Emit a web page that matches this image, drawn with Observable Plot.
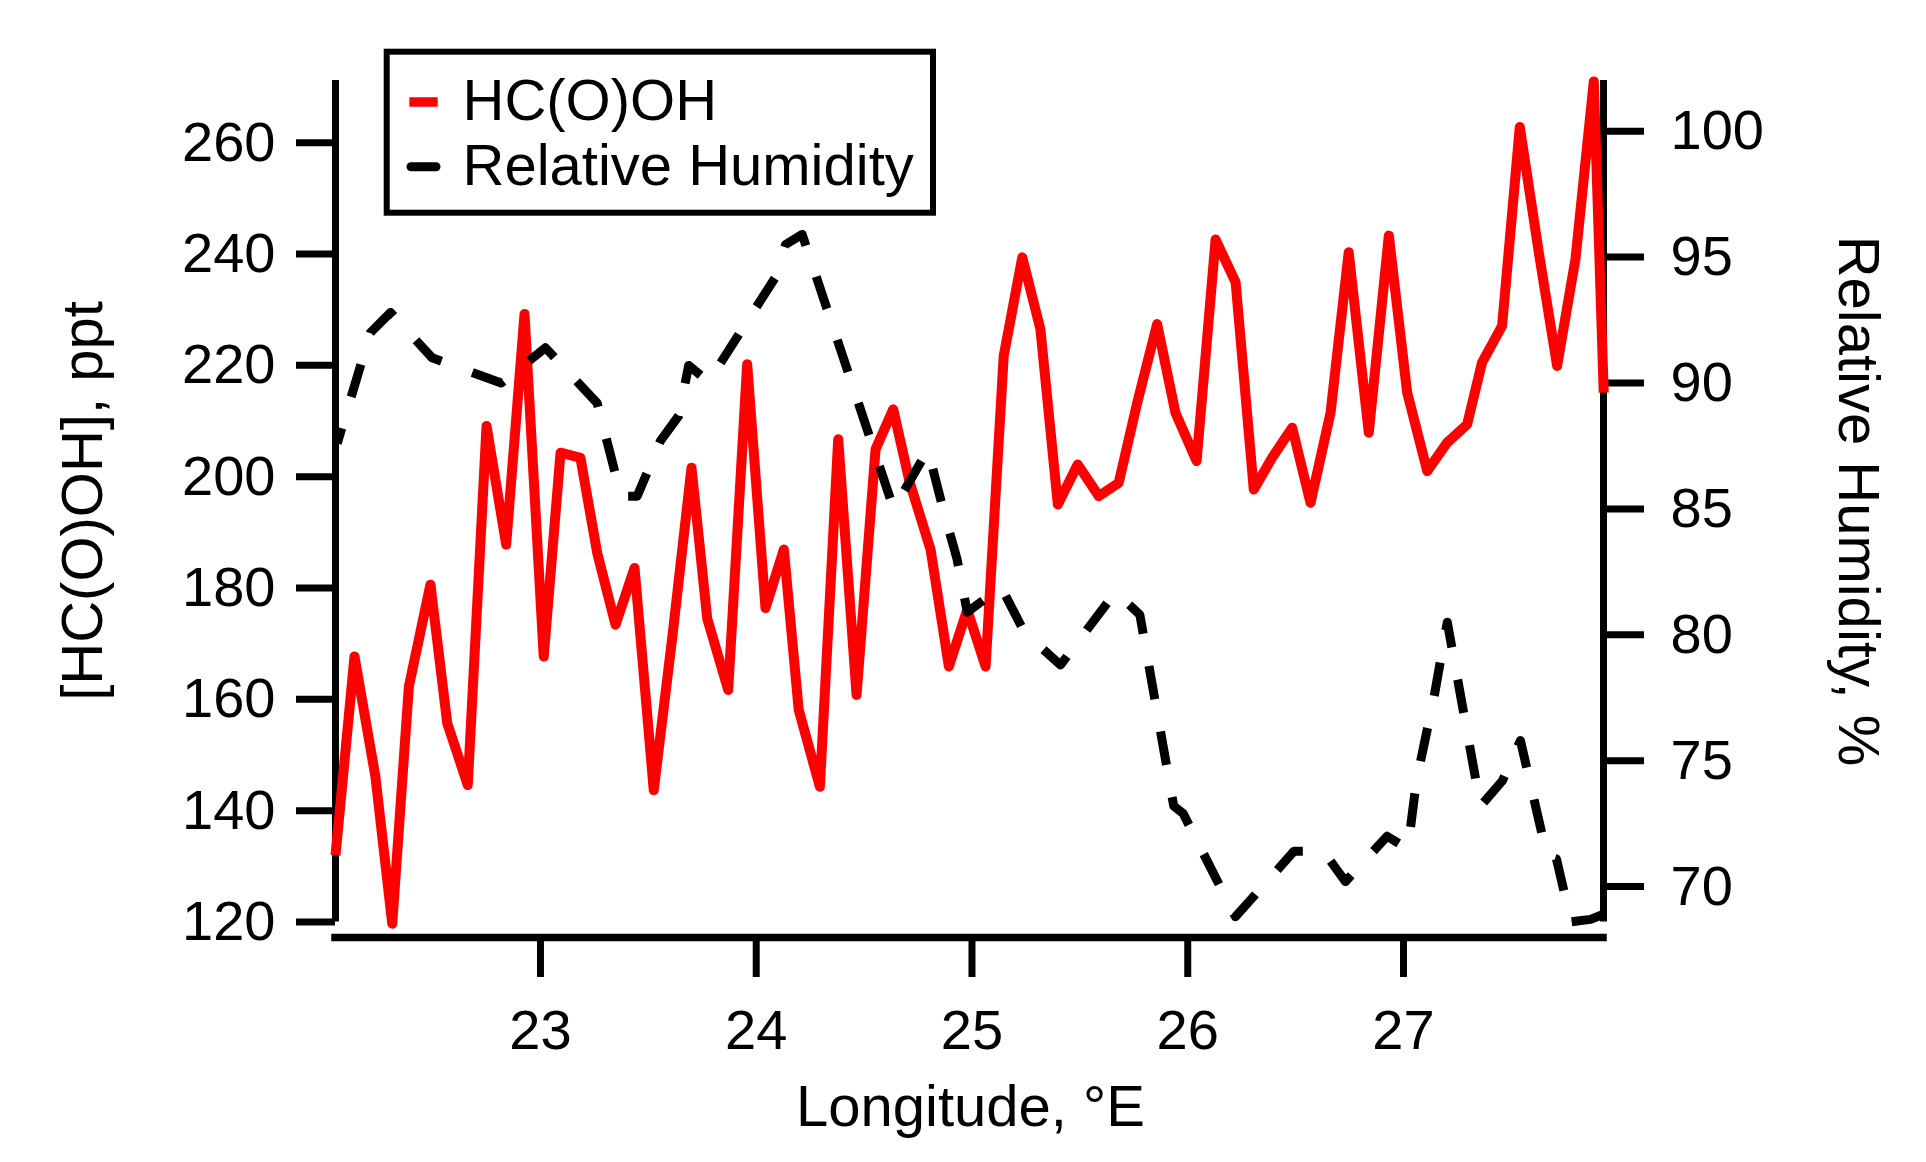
<!DOCTYPE html>
<html>
<head>
<meta charset="utf-8">
<script src="https://cdn.jsdelivr.net/npm/d3@7"></script>
<script src="https://cdn.jsdelivr.net/npm/@observablehq/plot@0.6"></script>
<style>
  html, body { margin: 0; padding: 0; background: #ffffff; }
  #wrap { position: relative; width: 1926px; height: 1162px; font-family: "Liberation Sans", Arial, sans-serif; }
  #legend { position: absolute; left: 380px; top: 45px; }
</style>
</head>
<body>
<div id="wrap"></div>
<script>
// ---- data ----
const hcLon = [22.050,22.138,22.235,22.313,22.390,22.490,22.568,22.663,22.750,22.841,
  22.926,23.015,23.093,23.185,23.263,23.348,23.436,23.525,23.612,23.700,
  23.773,23.870,23.958,24.043,24.128,24.197,24.295,24.380,24.465,24.553,
  24.635,24.712,24.808,24.893,24.978,25.063,25.147,25.233,25.317,25.398,
  25.490,25.588,25.680,25.766,25.858,25.943,26.041,26.129,26.222,26.306,
  26.391,26.484,26.569,26.662,26.746,26.839,26.932,27.017,27.110,27.202,
  27.295,27.364,27.457,27.539,27.627,27.712,27.797,27.882,27.928];
const hcValue = [132.0,167.7,146.1,119.7,162.3,180.6,155.7,144.6,209.1,187.8,
  229.2,167.7,204.3,203.4,186.3,173.4,183.6,143.7,171.5,201.6,
  174.5,161.7,220.2,176.4,186.9,158.1,144.3,206.7,160.8,204.9,
  212.1,198.9,186.9,165.9,176.1,165.9,221.7,239.4,226.5,195.0,
  202.2,196.5,198.9,213.3,227.4,211.5,202.8,242.6,234.9,197.7,
  203.4,208.8,195.3,211.5,240.3,207.9,243.3,215.1,201.0,206.1,
  209.4,220.5,227.1,262.8,240.3,219.9,239.1,271.0,215.1];

const rhLon = [22.058,22.212,22.305,22.498,22.818,23.023,23.263,23.374,23.448,23.556,
  23.641,23.687,23.779,24.089,24.136,24.213,24.637,24.796,24.869,24.931,
  24.978,25.135,25.243,25.410,25.665,25.778,25.935,25.979,26.221,26.492,
  26.629,26.731,26.924,27.020,27.060,27.141,27.203,27.357,27.458,27.542,
  27.666,27.709,27.777,27.867,27.927];
const rhValue = [87.6,92.0,92.8,91.0,90.0,91.4,89.2,85.5,85.5,87.7,
  88.7,90.7,90.05,94.2,95.5,95.9,85.0,87.35,84.9,83.0,
  80.9,81.9,80.1,78.8,81.7,80.8,73.2,72.9,68.8,71.4,
  71.4,70.2,72.0,71.5,74.2,77.5,80.5,73.2,74.2,75.8,
  71.2,71.1,68.6,68.7,68.9];

const xTicks = [23, 24, 25, 26, 27];
const leftTicks = [120, 140, 160, 180, 200, 220, 240, 260];
const rightTicks = [70, 75, 80, 85, 90, 95, 100];

const xDomain = [22.05, 27.927];
const yDomain = [117.22, 271.16];
const leftAxisBottom = 120;

// right (RH) axis expressed in left-axis units: RH 100 -> 262.05, 4.523 per %
const rhRef = 100, rhRefLeft = 262.05, rhFactor = 4.523;
const rhToLeft = rh => rhRefLeft + rhFactor * (rh - rhRef);
const leftToRh = v => (v - rhRefLeft) / rhFactor + rhRef;

const hcData = hcLon.map((x, i) => ({x, y: hcValue[i]}));
const rhData = rhLon.map((x, i) => ({x, y: rhToLeft(rhValue[i])}));

const FONT = "'Liberation Sans', Arial, Helvetica, sans-serif";

const chart = Plot.plot({
  width: 1926,
  height: 1162,
  marginLeft: 335,
  marginRight: 323,
  marginTop: 80,
  marginBottom: 225,
  style: {fontFamily: FONT, fontSize: "56px", background: "white", color: "black", overflow: "visible"},
  x: {domain: xDomain},
  y: {domain: yDomain},
  marks: [
    // axis frame lines
    Plot.ruleX([xDomain[0]], {y1: leftAxisBottom, y2: yDomain[1], stroke: "black", strokeWidth: 7}),
    Plot.ruleX([xDomain[1]], {y1: leftAxisBottom, y2: yDomain[1], stroke: "black", strokeWidth: 7}),
    Plot.ruleY([yDomain[0]], {x1: xDomain[0], x2: xDomain[1], stroke: "black", strokeWidth: 7.5, strokeLinecap: "square"}),
    // axes
    Plot.axisX(xTicks, {anchor: "bottom", tickSize: 40, tickPadding: 32, strokeWidth: 7, fontSize: 56, label: null, tickFormat: d => String(d)}),
    Plot.axisY(leftTicks, {anchor: "left", tickSize: 39, tickPadding: 21, strokeWidth: 7, fontSize: 56, label: null, tickFormat: d => String(d)}),
    Plot.axisY(rightTicks.map(rhToLeft), {anchor: "right", tickSize: 40, tickPadding: 27, strokeWidth: 7, fontSize: 56, label: null, tickFormat: d => String(Math.round(leftToRh(d)))}),
    // data
    Plot.line(hcData, {x: "x", y: "y", stroke: "#ff0000", strokeWidth: 10, strokeLinejoin: "round", strokeLinecap: "butt"}),
    Plot.line(rhData, {x: "x", y: "y", stroke: "black", strokeWidth: 9, strokeDasharray: "34,33", strokeLinejoin: "round", strokeLinecap: "butt"}),
    // axis titles
    Plot.text(["[HC(O)OH], ppt"], {text: d => d, frameAnchor: "left", rotate: -90, dx: -234, dy: -8, lineAnchor: "bottom", textAnchor: "middle", fontSize: 58, fill: "black"}),
    Plot.text(["Relative Humidity, %"], {text: d => d, frameAnchor: "right", rotate: 90, dx: 235, dy: -8, lineAnchor: "bottom", textAnchor: "middle", fontSize: 58, fill: "black"}),
    Plot.text(["Longitude, °E"], {text: d => d, frameAnchor: "bottom", dx: 1, dy: 188, lineAnchor: "bottom", textAnchor: "middle", fontSize: 58, fill: "black"})
  ]
});

const wrap = document.getElementById("wrap");
wrap.appendChild(chart);

// align the dash pattern phase with the reference (starts mid-dash, ends at a dash end)
const dashG = chart.querySelector("g[stroke-dasharray]");
if (dashG) {
  const p = dashG.querySelector("path");
  if (p && p.getTotalLength) {
    const L = p.getTotalLength();
    const startPhase = 18, endPhase = 33, basePeriod = 67, dashFrac = 34 / 67;
    const n = Math.max(1, Math.round((L + startPhase - endPhase) / basePeriod));
    const P = (L + startPhase - endPhase) / n;
    dashG.setAttribute("stroke-dasharray", `${(dashFrac * P).toFixed(2)},${((1 - dashFrac) * P).toFixed(2)}`);
    dashG.setAttribute("stroke-dashoffset", startPhase);
  }
}

// legend box (overlaid at the top-left of the plot)
const legendItems = [
  {label: "HC(O)OH", color: "#ff0000", cap: "butt", x1: 29.3, x2: 57.7, y: 57, w: 9.5, ty: 75},
  {label: "Relative Humidity", color: "black", cap: "round", x1: 31, x2: 56, y: 121.7, w: 9, ty: 140}
];
const ns = "http://www.w3.org/2000/svg";
const lg = document.createElementNS(ns, "svg");
lg.setAttribute("id", "legend");
lg.setAttribute("width", 560);
lg.setAttribute("height", 175);
lg.setAttribute("font-family", FONT);
const rect = document.createElementNS(ns, "rect");
rect.setAttribute("x", 6.7); rect.setAttribute("y", 6.7);
rect.setAttribute("width", 546.3); rect.setAttribute("height", 161);
rect.setAttribute("fill", "white"); rect.setAttribute("stroke", "black"); rect.setAttribute("stroke-width", 6);
lg.appendChild(rect);
for (const it of legendItems) {
  const ln = document.createElementNS(ns, "line");
  ln.setAttribute("x1", it.x1); ln.setAttribute("x2", it.x2);
  ln.setAttribute("y1", it.y); ln.setAttribute("y2", it.y);
  ln.setAttribute("stroke", it.color); ln.setAttribute("stroke-width", it.w);
  ln.setAttribute("stroke-linecap", it.cap);
  lg.appendChild(ln);
  const tx = document.createElementNS(ns, "text");
  tx.setAttribute("x", 82.5); tx.setAttribute("y", it.ty);
  tx.setAttribute("font-size", 58); tx.setAttribute("fill", "black");
  tx.textContent = it.label;
  lg.appendChild(tx);
}
wrap.appendChild(lg);
</script>
</body>
</html>
